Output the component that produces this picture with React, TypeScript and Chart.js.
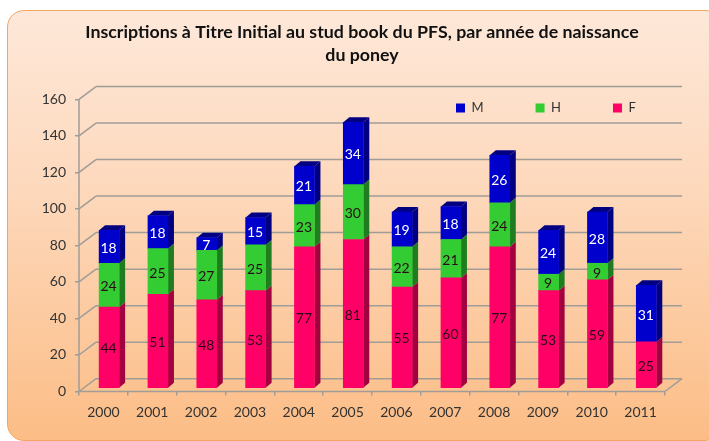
import React, { useEffect, useRef } from "react";
import { Chart, registerables } from "chart.js";

Chart.register(...registerables);

const categories = ["2000", "2001", "2002", "2003", "2004", "2005", "2006", "2007", "2008", "2009", "2010", "2011"];
const valuesF = [44, 51, 48, 53, 77, 81, 55, 60, 77, 53, 59, 25];
const valuesH = [24, 25, 27, 25, 23, 30, 22, 21, 24, 9, 9, null];
const valuesM = [18, 18, 7, 15, 21, 34, 19, 18, 26, 24, 28, 31];
const titleLines = ["Inscriptions à Titre Initial au stud book du PFS, par année de naissance", "du poney"];

const AREA = { left: 79, right: 665, top: 86, bottom: 391.5 };
const WALL_DX = 17;
const WALL_DY = 12.8;
const BAR_DX = 5.7;
const BAR_W = 20;
const DEPTH_X = 6;
const DEPTH_Y = 5;
const GRID = "#a09c98";
const FONT = "Lato, sans-serif";

const sideColors = ["#a3003f", "#1f7d1f", "#000080"];
const toXY = (arr: (number | null)[]) => arr.map((v, i) => ({ x: i, y: v }));

const poly = (ctx: CanvasRenderingContext2D, pts: number[][], fill: string) => {
  ctx.beginPath();
  pts.forEach(([x, y], i) => (i ? ctx.lineTo(x, y) : ctx.moveTo(x, y)));
  ctx.closePath();
  ctx.fillStyle = fill;
  ctx.fill();
};

const placement = {
  id: "placement",
  beforeLayout(chart: any) {
    if (chart.legend) chart.legend.isHorizontal = () => true;
  },
  afterLayout(chart: any) {
    if (chart.titleBlock) {
      chart.titleBlock.left += 29.5;
      chart.titleBlock.right += 29.5;
    }
    if (chart.legend) {
      const pad = chart.legend.options.labels.padding;
      chart.legend.left = 456 - pad;
      chart.legend.right = 700;
      chart.legend.top = 101.5 - pad;
    }
  },
};

const walls3d = {
  id: "walls3d",
  beforeDatasetsDraw(chart: any) {
    const { ctx } = chart;
    const y = chart.scales.y;
    ctx.save();
    ctx.strokeStyle = GRID;
    ctx.lineWidth = 1.5;
    const zero = y.getPixelForValue(0);
    const segs: number[][] = [];
    y.ticks.forEach((t: any) => {
      const p = y.getPixelForValue(t.value);
      segs.push([AREA.left, p, AREA.left + WALL_DX, p - WALL_DY]);
      segs.push([AREA.left + WALL_DX, p - WALL_DY, AREA.right + WALL_DX, p - WALL_DY]);
    });
    const top = y.getPixelForValue(y.ticks[y.ticks.length - 1].value);
    segs.push([AREA.left, top, AREA.left, zero]);
    segs.push([AREA.left, zero, AREA.right, zero]);
    segs.push([AREA.right, zero, AREA.right + WALL_DX, zero - WALL_DY]);
    segs.forEach(([a, b, c, d]) => {
      ctx.beginPath();
      ctx.moveTo(a, b);
      ctx.lineTo(c, d);
      ctx.stroke();
    });
    chart.data.datasets.forEach((_: any, di: number) => {
      chart.getDatasetMeta(di).data.forEach((bar: any, i: number) => {
        const raw = chart.data.datasets[di].data[i].y;
        if (raw == null) return;
        const r = bar.x + bar.width / 2;
        const l = bar.x - bar.width / 2;
        poly(ctx, [[r, bar.y], [r + DEPTH_X, bar.y - DEPTH_Y], [r + DEPTH_X, bar.base - DEPTH_Y], [r, bar.base]], sideColors[di]);
        let isTop = true;
        for (let k = di + 1; k < chart.data.datasets.length; k++) {
          if (chart.data.datasets[k].data[i].y != null) isTop = false;
        }
        if (isTop) {
          poly(ctx, [[l, bar.y], [l + DEPTH_X, bar.y - DEPTH_Y], [r + DEPTH_X, bar.y - DEPTH_Y], [r, bar.y]], sideColors[di]);
        }
      });
    });
    ctx.restore();
  },
  afterDatasetsDraw(chart: any) {
    const { ctx } = chart;
    ctx.save();
    ctx.font = "14px " + FONT;
    ctx.textAlign = "center";
    ctx.textBaseline = "middle";
    chart.data.datasets.forEach((ds: any, di: number) => {
      ctx.fillStyle = di === 2 ? "#ffffff" : "#2a0a14";
      chart.getDatasetMeta(di).data.forEach((bar: any, i: number) => {
        const v = ds.data[i].y;
        if (v == null) return;
        ctx.fillText(String(v), bar.x - 0.5, (bar.y + bar.base) / 2 + 1.5);
      });
    });
    ctx.restore();
  },
};

export default function App() {
  const ref = useRef<HTMLCanvasElement>(null);
  useEffect(() => {
    const chart = new Chart(ref.current!, {
      type: "bar",
      data: {
        labels: categories,
        datasets: [
          { label: "F", data: toXY(valuesF), backgroundColor: "#ff0066", xAxisID: "xb", yAxisID: "yb", stack: "s", barThickness: BAR_W, clip: false },
          { label: "H", data: toXY(valuesH), backgroundColor: "#33cc33", xAxisID: "xb", yAxisID: "yb", stack: "s", barThickness: BAR_W, clip: false },
          { label: "M", data: toXY(valuesM), backgroundColor: "#0000cc", xAxisID: "xb", yAxisID: "yb", stack: "s", barThickness: BAR_W, clip: false },
        ] as any,
      },
      options: {
        responsive: false,
        animation: false,
        events: [],
        layout: { padding: { left: 0, right: 709 - AREA.right, top: 0, bottom: 0 } },
        scales: {
          x: {
            type: "category",
            position: "bottom",
            grid: { drawOnChartArea: false, drawTicks: true, tickLength: 4, color: GRID, lineWidth: 1.5 },
            border: { display: false },
            ticks: { color: "#333333", font: { family: FONT, size: 14 }, padding: 9, maxRotation: 0, autoSkip: false },
            afterFit: (s: any) => { s.height = 441 - AREA.bottom; },
          },
          y: {
            type: "linear",
            position: "left",
            min: 0,
            max: 167.3,
            grid: { drawOnChartArea: false, drawTicks: true, tickLength: 4, color: GRID, lineWidth: 1.5 },
            border: { display: false },
            ticks: { stepSize: 20, includeBounds: false, color: "#333333", font: { family: FONT, size: 14 }, padding: 9 },
            afterFit: (s: any) => { s.width = AREA.left; },
          },
          xb: {
            type: "linear",
            axis: "x",
            display: false,
            offset: false,
            min: -0.5 - BAR_DX / 48.83,
            max: 11.5 - BAR_DX / 48.83,
          },
          yb: {
            type: "linear",
            axis: "y",
            display: false,
            stacked: true,
            min: -2.08,
            max: 164.86,
          },
        } as any,
        plugins: {
          title: {
            display: true,
            text: titleLines,
            color: "#111111",
            font: { family: FONT, size: 17.8, weight: "bold", lineHeight: 23 / 17.8 },
            padding: { top: 20.5, bottom: 19.5 },
          },
          legend: {
            display: true,
            position: "chartArea",
            align: "start",
            reverse: true,
            labels: {
              boxWidth: 9,
              boxHeight: 9,
              padding: 52,
              color: "#333333",
              font: { family: FONT, size: 13 },
            },
          },
          tooltip: { enabled: false },
        } as any,
      },
      plugins: [placement, walls3d],
    });
    return () => chart.destroy();
  }, []);
  return (
    <div style={{ position: "fixed", left: 0, top: 0, width: 709, height: 441, overflow: "hidden", background: "#ffffff" }}>
      <div
        style={{
          position: "absolute",
          left: 7,
          top: 10,
          width: 715,
          height: 431,
          boxSizing: "border-box",
          border: "1.5px solid #f5a562",
          borderRadius: 17,
          background: "linear-gradient(180deg, #fee8d9 0%, #fdd9bd 40%, #fcbd86 100%)",
        }}
      />
      <canvas ref={ref} width={709} height={441} style={{ position: "absolute", left: 0, top: 0 }} />
    </div>
  );
}
